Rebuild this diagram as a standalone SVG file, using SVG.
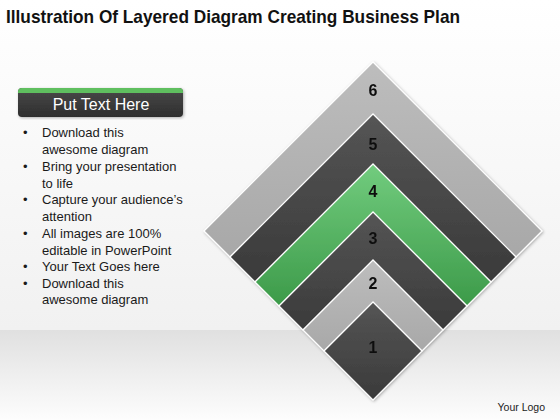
<svg xmlns="http://www.w3.org/2000/svg" width="560" height="420" viewBox="0 0 560 420">
<defs>
<linearGradient id="bgTop" x1="0" y1="0" x2="0" y2="1"><stop offset="0" stop-color="#ffffff"/><stop offset="1" stop-color="#f1f1f1"/></linearGradient>
<linearGradient id="bgBot" x1="0" y1="0" x2="0" y2="1"><stop offset="0" stop-color="#e0e0e0"/><stop offset="1" stop-color="#fdfdfd"/></linearGradient>
<linearGradient id="light" x1="0" y1="0" x2="0" y2="1"><stop offset="0" stop-color="#bdbdbd"/><stop offset="1" stop-color="#a8a8a8"/></linearGradient>
<linearGradient id="dark" x1="0" y1="0" x2="0" y2="1"><stop offset="0" stop-color="#555555"/><stop offset="1" stop-color="#3a3a3a"/></linearGradient>
<linearGradient id="green" x1="0" y1="0" x2="0" y2="1"><stop offset="0" stop-color="#72cc7e"/><stop offset="1" stop-color="#3c9a49"/></linearGradient>
<linearGradient id="hdr" x1="0" y1="0" x2="0" y2="1"><stop offset="0" stop-color="#4a4a4a"/><stop offset="1" stop-color="#2e2e2e"/></linearGradient>
<filter id="sh" x="-10%" y="-10%" width="120%" height="120%"><feDropShadow dx="1" dy="1" stdDeviation="1.5" flood-color="#000" flood-opacity="0.3"/></filter>
</defs>
<style>
.layer{stroke:#ffffff;stroke-width:1.2;stroke-linejoin:miter}
.num{font-family:"Liberation Sans",Arial,sans-serif;font-weight:bold;font-size:16px;fill:#111;text-anchor:middle}
.bul{font-family:"Liberation Sans",Arial,sans-serif;font-size:13px;fill:#1a1a1a}
</style>
<rect x="0" y="0" width="560" height="330" fill="url(#bgTop)"/>
<rect x="0" y="330" width="560" height="90" fill="url(#bgBot)"/>
<text x="6" y="23" font-family="'Liberation Sans',Arial,sans-serif" font-weight="bold" font-size="18.5" fill="#111" textLength="454" lengthAdjust="spacingAndGlyphs">Illustration Of Layered Diagram Creating Business Plan</text>
<g id="header">
<rect x="18" y="88" width="165" height="29" rx="4" fill="url(#hdr)" filter="url(#sh)"/>
<path d="M22,88 H179 A4,4 0 0 1 183,92 V93 H18 V92 A4,4 0 0 1 22,88 Z" fill="#5fbf5f"/>
<text x="101" y="110" font-family="'Liberation Sans',Arial,sans-serif" font-size="16" fill="#ffffff" text-anchor="middle">Put Text Here</text>
</g>
<g id="bullets" class="bul">
<text x="23" y="137">•</text><text x="42" y="137">Download this</text>
<text x="42" y="153.5">awesome diagram</text>
<text x="23" y="171">•</text><text x="42" y="171">Bring your presentation</text>
<text x="42" y="187.5">to life</text>
<text x="23" y="204">•</text><text x="42" y="204">Capture your audience’s</text>
<text x="42" y="220.5">attention</text>
<text x="23" y="238">•</text><text x="42" y="238">All images are 100%</text>
<text x="42" y="254.5">editable in PowerPoint</text>
<text x="23" y="271">•</text><text x="42" y="271">Your Text Goes here</text>
<text x="23" y="287.5">•</text><text x="42" y="287.5">Download this</text>
<text x="42" y="304">awesome diagram</text>
</g>
<g id="diagram" filter="url(#sh)">
<g id="layer6"><polygon class="layer" fill="url(#light)" points="204,231 373,62 542,231 516,257 373,114 230,257"/><text class="num" x="373" y="96">6</text></g>
<g id="layer5"><polygon class="layer" fill="url(#dark)" points="230,257 373,114 516,257 491,282 373,164 255,282"/><text class="num" x="373" y="150">5</text></g>
<g id="layer4"><polygon class="layer" fill="url(#green)" points="255,282 373,164 491,282 467,306 373,212 279,306"/><text class="num" x="373" y="197">4</text></g>
<g id="layer3"><polygon class="layer" fill="url(#dark)" points="279,306 373,212 467,306 443,330 373,260 303,330"/><text class="num" x="373" y="244">3</text></g>
<g id="layer2"><polygon class="layer" fill="url(#light)" points="303,330 373,260 443,330 422,351 373,302 324,351"/><text class="num" x="373" y="289">2</text></g>
<g id="layer1"><polygon class="layer" fill="url(#dark)" points="324,351 373,302 422,351 373,400"/><text class="num" x="373" y="353">1</text></g>
</g>
<text x="545" y="411" font-family="'Liberation Sans',Arial,sans-serif" font-size="10.5" fill="#222" text-anchor="end">Your Logo</text>
</svg>
